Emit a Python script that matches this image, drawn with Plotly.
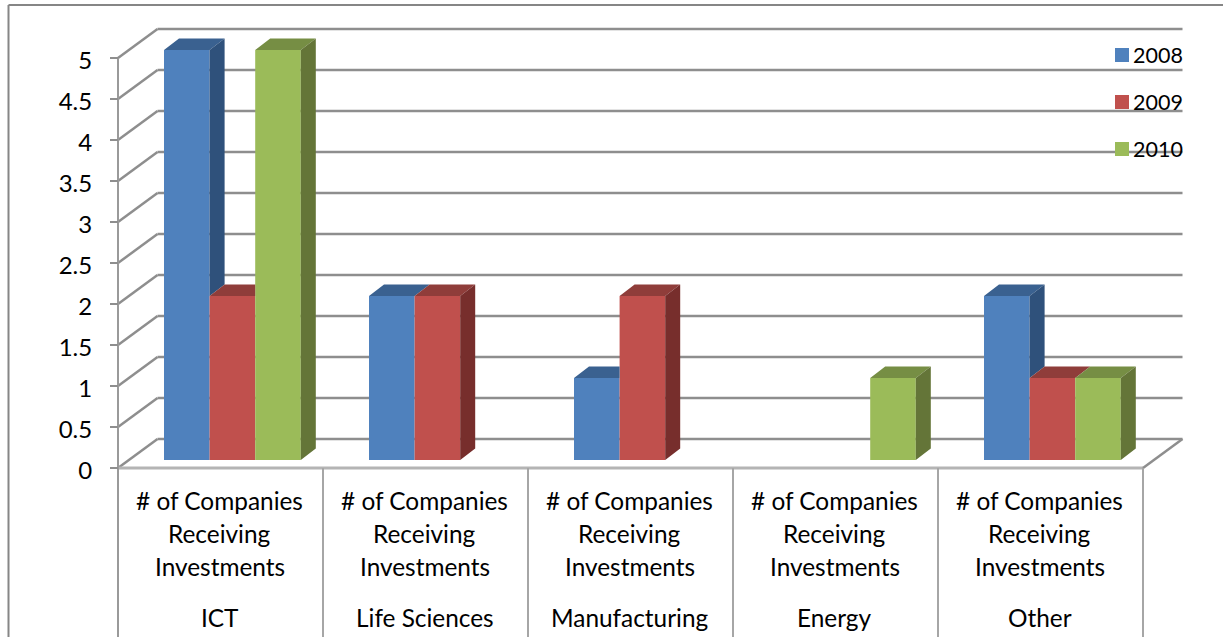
import plotly.graph_objects as go

categories = ["ICT", "Life Sciences", "Manufacturing", "Energy", "Other"]
metric_lines = ["# of Companies", "Receiving", "Investments"]
series_names = ["2008", "2009", "2010"]
values_2008 = [5, 2, 1, 0, 2]
values_2009 = [2, 2, 2, 0, 1]
values_2010 = [5, 0, 0, 1, 1]
y_ticks = [0, 0.5, 1, 1.5, 2, 2.5, 3, 3.5, 4, 4.5, 5]
y_labels = ["0", "0.5", "1", "1.5", "2", "2.5", "3", "3.5", "4", "4.5", "5"]

front = ["#4F81BD", "#C0504D", "#9BBB59"]
top_col = ["#3A6190", "#8F3D3A", "#768E44"]
side_col = ["#2F517B", "#772E2C", "#647538"]
GRID = "#8E8E8E"
FONT = "Lato"
W, H = 1223, 637
PX_X, PX_Y = 205.0, 82.0          # pixels per category / per value unit
X0, Y0 = 118.0, 468.0             # pixel position of the origin

def ux(px): return px / PX_X
def uy(px): return px / PX_Y
def xpx(p): return (p - X0) / PX_X
def ypx(p): return (Y0 - p) / PX_Y

WALL_DX, WALL_DY = ux(39.5), uy(29)
BASE = uy(8)
BAR_W = ux(45.6)
BAR_OFF = ux(46)
D_X, D_Y = ux(15), uy(11.5)
n_cat = len(categories)
all_vals = [values_2008, values_2009, values_2010]

def seg(x1, y1, x2, y2, color=GRID, width=2.5):
    return dict(type="line", xref="x", yref="y", x0=x1, y0=y1, x1=x2, y1=y2,
                line=dict(color=color, width=width), layer="below")

shapes = []
for v in y_ticks:
    shapes.append(seg(0, v, WALL_DX, v + WALL_DY))
    shapes.append(seg(WALL_DX, v + WALL_DY, n_cat + WALL_DX, v + WALL_DY))
shapes.append(seg(0, 0, n_cat, 0, "#B4B4B4", 3))
shapes.append(seg(n_cat, 0, n_cat + WALL_DX, WALL_DY))
shapes.append(seg(0, ypx(637), 0, 5, "#9A9A9A", 2))
for i in range(1, n_cat + 1):
    shapes.append(seg(i, ypx(637), i, 0, "#A6A6A6", 2))
# outer chart frame
shapes.append(dict(type="line", xref="paper", yref="paper", x0=8.5 / W, x1=1, y0=1 - 5 / H, y1=1 - 5 / H,
                   line=dict(color="#868686", width=2), layer="below"))
shapes.append(dict(type="line", xref="paper", yref="paper", x0=8.5 / W, x1=8.5 / W, y0=0, y1=1 - 5 / H,
                   line=dict(color="#868686", width=2), layer="below"))

fig = go.Figure()
centers = [i + BAR_OFF + BAR_W * 0.5 for i in range(n_cat)]
for s, vals in enumerate(all_vals):
    fig.add_trace(go.Bar(x=[c + s * BAR_W for c in centers], y=vals, base=[BASE] * n_cat,
                         width=BAR_W, name=series_names[s], marker=dict(color=front[s], line=dict(width=0)),
                         showlegend=False, hoverinfo="y+name"))

for s, vals in enumerate(all_vals):
    sx, sy, tx, ty = [], [], [], []
    for i, v in enumerate(vals):
        if not v:
            continue
        nxt = all_vals[s + 1][i] if s < 2 else 0
        xl = i + BAR_OFF + s * BAR_W
        xr = xl + BAR_W
        t = BASE + v
        if nxt > v:
            tx += [xl, xl + D_X, xr, xr, None]
            ty += [t, t + D_Y, t + D_Y, t, None]
        else:
            tx += [xl, xl + D_X, xr + D_X, xr, None]
            ty += [t, t + D_Y, t + D_Y, t, None]
        if nxt < v:
            low = BASE + nxt
            sx += [xr, xr + D_X, xr + D_X, xr, None]
            sy += [t, t + D_Y, low + D_Y, low, None]
    for px_x, px_y, col in ((tx, ty, top_col[s]), (sx, sy, side_col[s])):
        fig.add_trace(go.Scatter(x=px_x, y=px_y, mode="lines", fill="toself", fillcolor=col,
                                 line=dict(width=0), showlegend=False, hoverinfo="skip"))

annotations = []
TXT = dict(family=FONT, size=24.4, color="#000000")
LEG = dict(family=FONT, size=21.5, color="#000000")
for i, cat in enumerate(categories):
    for ln, py in zip(metric_lines, (500, 533, 566)):
        annotations.append(dict(x=i + 0.5, y=ypx(py), xref="x", yref="y", text=ln, showarrow=False,
                                xanchor="center", yanchor="middle", xshift=-1, font=TXT))
    annotations.append(dict(x=i + 0.5, y=ypx(617.5), xref="x", yref="y", text=cat, showarrow=False,
                            xanchor="center", yanchor="middle", xshift=-1, font=TXT))

# legend
for name, col, py in zip(series_names, front, (55, 102, 149)):
    shapes.append(dict(type="rect", xref="paper", yref="paper", x0=1115 / W, x1=1129 / W,
                       y0=1 - (py + 7) / H, y1=1 - (py - 7) / H, fillcolor=col, line=dict(width=0), layer="above"))
    annotations.append(dict(xref="paper", yref="paper", x=1134 / W, y=1 - py / H, text=name, showarrow=False,
                            xanchor="left", yanchor="middle", xshift=-3, font=LEG))

fig.update_layout(
    width=W, height=H, margin=dict(l=0, r=0, t=0, b=0), paper_bgcolor="white", plot_bgcolor="white",
    barmode="overlay", shapes=shapes, annotations=annotations, showlegend=False,
    xaxis=dict(range=[xpx(0), xpx(W)], domain=[0, 1], visible=False, fixedrange=True),
    yaxis=dict(range=[ypx(H), ypx(0)], domain=[0, 1], anchor="free", position=X0 / W, side="left",
               tickmode="array", tickvals=y_ticks, ticktext=y_labels, ticks="outside", ticklen=8,
               tickwidth=2, tickcolor=GRID, showline=False, showgrid=False, zeroline=False,
               ticklabelstandoff=13, ticklabelshift=3,
               tickfont=dict(family=FONT, size=24, color="#000000"), fixedrange=True),
)
fig.write_html("out.html", config={"displayModeBar": False},
               post_script="document.body.style.margin='0';document.body.style.overflow='hidden';")
